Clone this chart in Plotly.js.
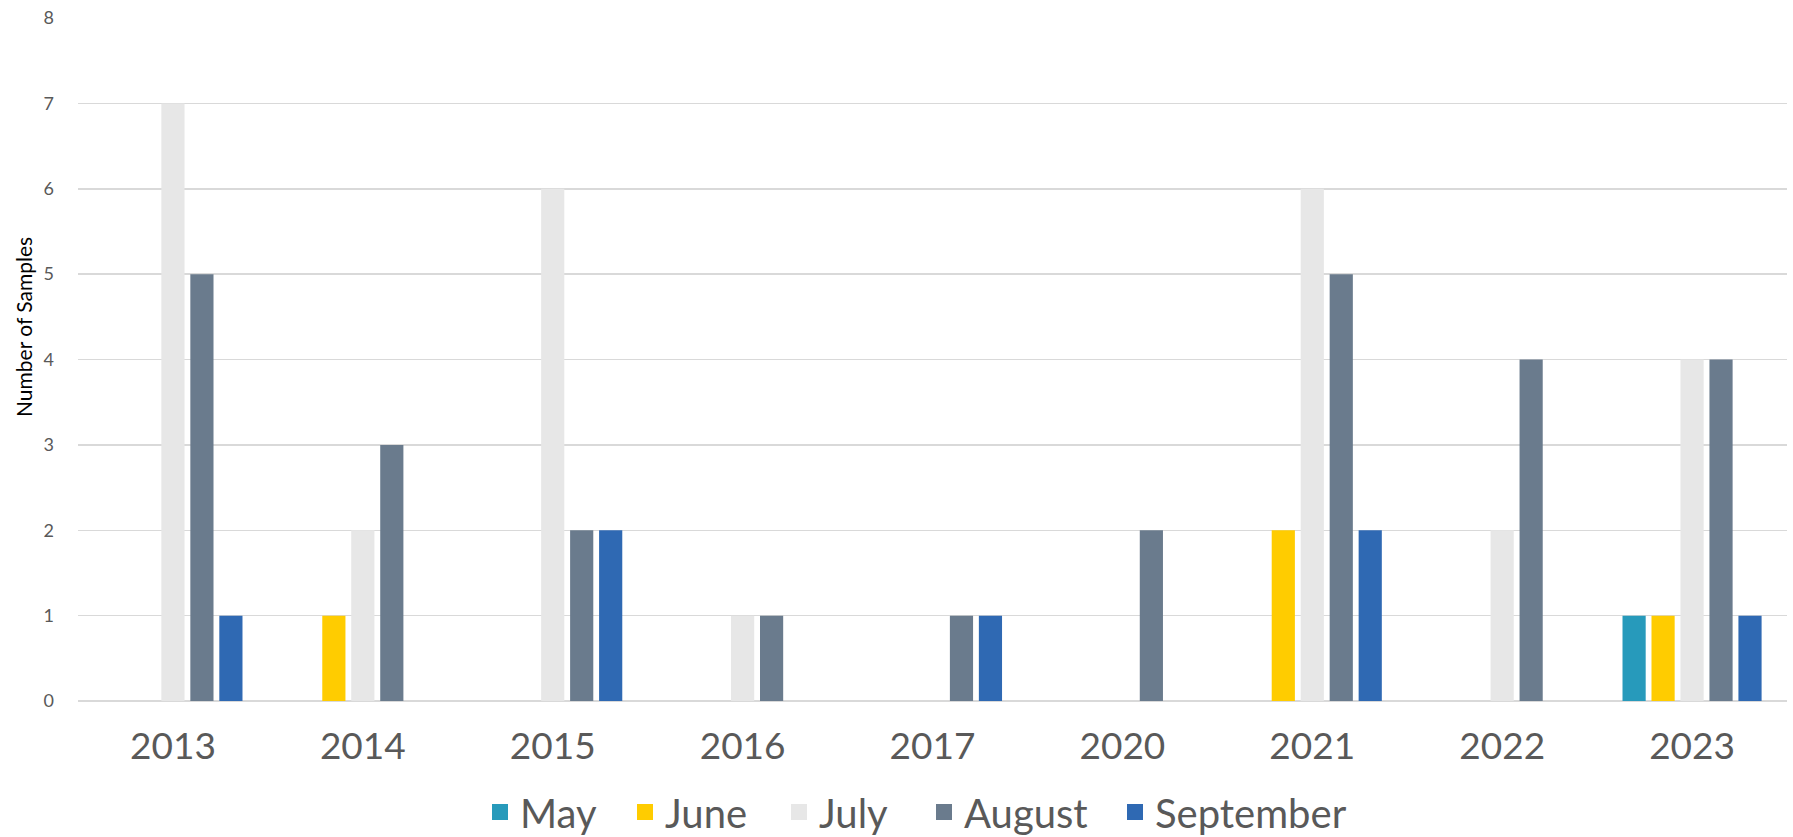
<!DOCTYPE html>
<html>
<head>
<meta charset="utf-8">
<script src="https://cdn.plot.ly/plotly-3.0.1.min.js"></script>
<style>html,body{margin:0;padding:0;background:#fff;}#chart{width:1793px;height:837px;}</style>
</head>
<body>
<div id="chart"></div>
<script>
const years = ["2013","2014","2015","2016","2017","2020","2021","2022","2023"];
const may       = [null, null, null, null, null, null, null, null, 1];
const june      = [null, 1,    null, null, null, null, 2,    null, 1];
const july      = [7,    2,    6,    1,    null, null, 6,    2,    4];
const august    = [5,    3,    2,    1,    1,    2,    5,    4,    4];
const september = [1,    null, 2,    null, 1,    null, 2,    null, 1];
const seriesNames = ["May","June","July","August","September"];
const seriesColors = ["#279ABB","#FFCC00","#E7E7E7","#6A7B8D","#2F69B3"];
const seriesData = [may, june, july, august, september];
const yTitle = "Number of Samples";

const PLOT_L = 78, PLOT_W = 1709, PLOT_B = 701, PLOT_H = 683;
// left edge (px) of each legend swatch
const legendLeftPx = [495, 640, 794, 939, 1130];
const legendIds = ["legend", "legend2", "legend3", "legend4", "legend5"];

const barTraces = seriesData.map((vals, i) => ({
  type: "bar",
  name: seriesNames[i],
  legendgroup: seriesNames[i],
  showlegend: false,
  x: years,
  y: vals,
  marker: {color: seriesColors[i]},
  hoverinfo: "x+y+name"
}));
const legendTraces = seriesNames.map((n, i) => ({
  type: "scatter",
  mode: "markers",
  name: n,
  legendgroup: n,
  legend: legendIds[i],
  x: [null], y: [null],
  marker: {symbol: "square", size: 20, color: seriesColors[i]},
  hoverinfo: "skip"
}));

const layout = {
  width: 1793, height: 837,
  margin: {l: PLOT_L, r: 6, t: 18, b: 136, autoexpand: false},
  paper_bgcolor: "#fff", plot_bgcolor: "#fff",
  barmode: "group",
  bargap: 0.237,
  bargroupgap: 0.2,
  showlegend: true,
  xaxis: {
    type: "category",
    tickfont: {family: "Lato, sans-serif", size: 37, color: "#595959"},
    ticklabelstandoff: 20,
    showgrid: false, showline: false, zeroline: false, ticks: ""
  },
  yaxis: {
    range: [0, 8], dtick: 1,
    tickfont: {family: "Lato, sans-serif", size: 18, color: "#595959"},
    ticklabelstandoff: 23,
    gridcolor: "#D9D9D9", gridwidth: 1.5,
    zeroline: true, zerolinecolor: "#D9D9D9", zerolinewidth: 1.5,
    showline: false, ticks: ""
  },
  annotations: [{
    text: yTitle, textangle: -90, showarrow: false,
    xref: "paper", yref: "paper",
    x: (23 - PLOT_L) / PLOT_W, xanchor: "center",
    y: (PLOT_B - 327) / PLOT_H, yanchor: "middle",
    font: {family: "Lato, sans-serif", size: 21, color: "#000"}
  }]
};
legendIds.forEach((id, i) => {
  layout[id] = {
    orientation: "h",
    x: (legendLeftPx[i] - 15 - PLOT_L) / PLOT_W, xanchor: "left",
    y: -(812 - PLOT_B) / PLOT_H, yanchor: "middle",
    font: {family: "Lato, sans-serif", size: 40, color: "#595959"},
    itemsizing: "trace", itemwidth: 30, bgcolor: "rgba(0,0,0,0)"
  };
});

Plotly.newPlot("chart", barTraces.concat(legendTraces), layout, {displayModeBar: false, staticPlot: true});
</script>
</body>
</html>
